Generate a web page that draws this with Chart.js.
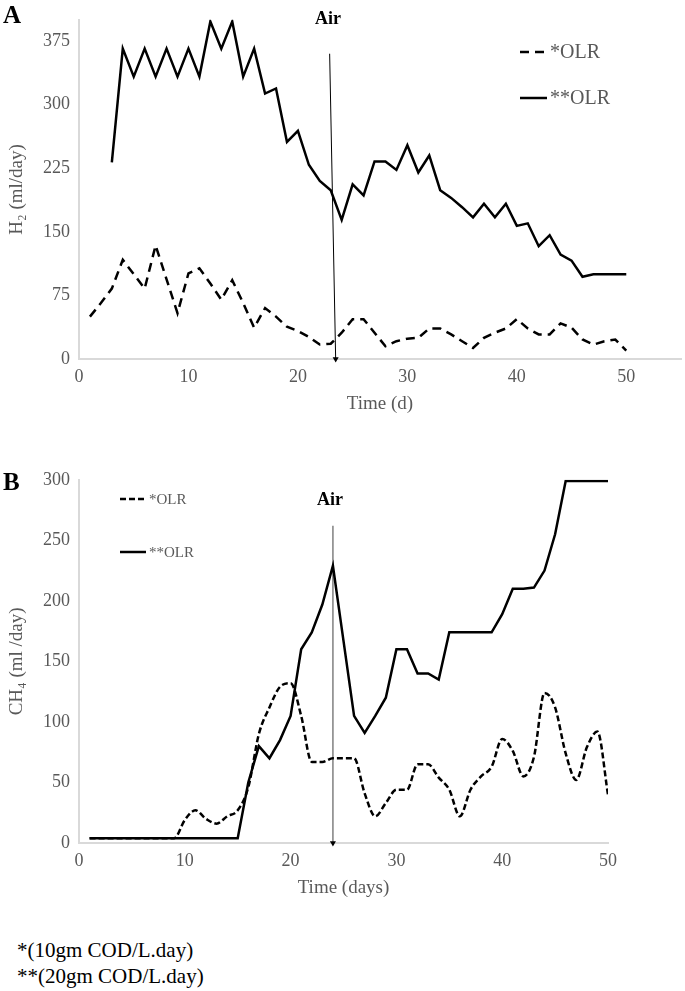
<!DOCTYPE html>
<html>
<head>
<meta charset="utf-8">
<script src="https://cdn.jsdelivr.net/npm/chart.js@4.4.0/dist/chart.umd.min.js"></script>
<style>
  body { margin: 0; background: #fff; }
  #wrap { position: relative; width: 685px; height: 991px; font-family: "Liberation Serif", "Times New Roman", serif; }
  canvas { position: absolute; left: 0; }
  .panel { position: absolute; left: 3px; font-weight: bold; font-size: 25px; color: #000; }
  .note { position: absolute; left: 17px; font-size: 21px; color: #000; }
</style>
</head>
<body>
<div id="wrap">
  <canvas id="chartA" width="685" height="420" style="top:0"></canvas>
  <canvas id="chartB" width="685" height="444" style="top:460px"></canvas>
  <div class="panel" style="top:1px">A</div>
  <div class="panel" style="top:468px">B</div>
  <div class="note" style="top:938px">*(10gm COD/L.day)</div>
  <div class="note" style="top:964px">**(20gm COD/L.day)</div>
</div>
<script>
// days of the run
const days = [1, 2, 3, 4, 5, 6, 7, 8, 9, 10, 11, 12, 13, 14, 15, 16, 17, 18, 19, 20,
  21, 22, 23, 24, 25, 26, 27, 28, 29, 30, 31, 32, 33, 34, 35, 36, 37, 38, 39, 40,
  41, 42, 43, 44, 45, 46, 47, 48, 49, 50];

// A: H2 (ml/day)
const h2Low = [50, 66, 83, 117, 100, 83, 134, 94, 54, 101, 107, 89, 70, 93, 66, 37, 60, 50, 38, 33,
  26, 17, 18, 31, 47, 47, 31, 15, 21, 24, 25, 36, 36, 29, 21, 13, 25, 31, 36, 47,
  36, 29, 29, 42, 37, 23, 17, 21, 23, 10];
const h2High = [null, null, 232, 366, 333, 366, 333, 366, 333, 366, 333, 398, 366, 398, 333, 366, 313, 319, 256, 269,
  229, 210, 199, 164, 206, 193, 233, 233, 223, 252, 220, 240, 199, 190, 179, 167, 183, 167, 183, 157,
  160, 133, 146, 123, 116, 97, 100, 100, 100, 100];

// B: CH4 (ml/day)
const ch4Low = [4, 4, 4, 4, 4, 4, 4, 4, 4, 19, 27, 20, 16, 22, 27, 46, 90, 112, 129, 132,
  105, 67, 67, 70, 70, 70, 41, 22, 33, 44, 44, 65, 65, 54, 44, 22, 44, 55, 63, 86,
  76, 55, 71, 124, 112, 74, 52, 79, 92, 40];
const ch4High = [4, 4, 4, 4, 4, 4, 4, 4, 4, 4, 4, 4, 4, 4, 4, 50, 80, 70, 85, 105,
  160, 174, 197, 229, 167, 105, 91, 105, 120, 160, 160, 140, 140, 135, 174, 174, 174, 174, 174, 189,
  210, 210, 211, 225, 255, 299, 299, 299, 299, 299];

// air injection marker (day, top value)
const airA = [[22.9, 360], [23.45, 0]];
const airB = [[24, 262], [24, 0]];

// tick labels
const xTicks = [0, 10, 20, 30, 40, 50];
const yTicksA = [0, 75, 150, 225, 300, 375];
const yTicksB = [0, 50, 100, 150, 200, 250, 300];

const serif = '"Liberation Serif", "Times New Roman", serif';
const grey = '#595959';

function pts(xs, ys) {
  return xs.map((x, i) => ({ x: x, y: ys[i] })).filter(p => p.y !== null);
}

const extras = {
  id: 'extras',
  afterDatasetsDraw(chart, args, opts) {
    const ctx = chart.ctx;
    ctx.save();
    ctx.fillStyle = '#000';
    ctx.font = 'bold 18px ' + serif;
    ctx.textAlign = 'center';
    ctx.textBaseline = 'middle';
    ctx.fillText('Air', opts.air[0], opts.air[1]);

    ctx.font = opts.legendSize + 'px ' + serif;
    ctx.textAlign = 'left';
    let row = 0;
    chart.data.datasets.forEach(ds => {
      if (ds.isAir) return;
      const y = opts.legendY[row++];
      ctx.strokeStyle = ds.borderColor;
      ctx.lineWidth = ds.borderWidth;
      ctx.setLineDash(ds.borderDash || []);
      ctx.beginPath();
      ctx.moveTo(opts.legendX[0], y);
      ctx.lineTo(opts.legendX[1], y);
      ctx.stroke();
      ctx.setLineDash([]);
      ctx.fillStyle = grey;
      ctx.fillText(ds.label, opts.legendX[2], y + 1);
    });
    ctx.restore();
  }
};

function axisX(title, max) {
  return {
    type: 'linear', min: 0, max: max,
    afterBuildTicks: s => { s.ticks = xTicks.map(v => ({ value: v })); },
    afterFit: s => { s.height = 60; },
    grid: { display: false, drawTicks: false },
    border: { color: '#d9d9d9', width: 2 },
    ticks: { color: grey, font: { family: serif, size: 18 }, padding: 7, maxRotation: 0 },
    title: { display: true, text: title, color: grey, font: { family: serif, size: 19 }, padding: { top: 0, bottom: 4 } }
  };
}

function axisY(title, max, ticks) {
  return {
    min: 0, max: max,
    afterBuildTicks: s => { s.ticks = ticks.map(v => ({ value: v })); },
    afterFit: s => { s.width = 79; },
    grid: { display: false, drawTicks: false },
    border: { color: '#d9d9d9', width: 2 },
    ticks: { color: grey, font: { family: serif, size: 18 }, padding: 9 },
    title: { display: true, text: title, color: grey, font: { family: serif, size: 19 }, padding: { top: 6, bottom: 0 } }
  };
}

new Chart(document.getElementById('chartA'), {
  type: 'line',
  data: {
    datasets: [
      { label: '*OLR', data: pts(days, h2Low), borderColor: '#000', borderWidth: 2.5, borderDash: [9, 6], pointRadius: 0 },
      { label: '**OLR', data: pts(days, h2High), borderColor: '#000', borderWidth: 2.5, pointRadius: 0 },
      { label: 'Air', isAir: true, data: airA.map(p => ({ x: p[0], y: p[1] })), borderColor: '#000', borderWidth: 1,
        pointRadius: [0, 3.5], pointStyle: 'triangle', rotation: 180, pointBackgroundColor: '#000', pointBorderWidth: 0, clip: false }
    ]
  },
  options: {
    responsive: false, animation: false, devicePixelRatio: 1,
    layout: { padding: { top: 3, right: 1, bottom: 1, left: 0 } },
    plugins: {
      legend: { display: false }, tooltip: { enabled: false },
      extras: { air: [328, 19], legendX: [520, 547, 550], legendY: [52, 98], legendSize: 20 }
    },
    scales: { x: axisX('Time (d)', 55), y: axisY('H\u2082 (ml/day)', 400, yTicksA) }
  },
  plugins: [extras]
});

new Chart(document.getElementById('chartB'), {
  type: 'line',
  data: {
    datasets: [
      { label: '*OLR', data: pts(days, ch4Low), borderColor: '#000', borderWidth: 2.5, borderDash: [6, 3], pointRadius: 0, cubicInterpolationMode: 'monotone' },
      { label: '**OLR', data: pts(days, ch4High), borderColor: '#000', borderWidth: 2.5, pointRadius: 0 },
      { label: 'Air', isAir: true, data: airB.map(p => ({ x: p[0], y: p[1] })), borderColor: '#808080', borderWidth: 1.5,
        pointRadius: [0, 3.5], pointStyle: 'triangle', rotation: 180, pointBackgroundColor: '#000', pointBorderWidth: 0, clip: false }
    ]
  },
  options: {
    responsive: false, animation: false, devicePixelRatio: 1,
    layout: { padding: { top: 18, right: 77, bottom: 1, left: 0 } },
    plugins: {
      legend: { display: false }, tooltip: { enabled: false },
      extras: { air: [330, 40], legendX: [120, 146, 149], legendY: [39, 92], legendSize: 15 }
    },
    scales: { x: axisX('Time (days)', 50), y: axisY('CH\u2084 (ml /day)', 300, yTicksB) }
  },
  plugins: [extras]
});
</script>
</body>
</html>
